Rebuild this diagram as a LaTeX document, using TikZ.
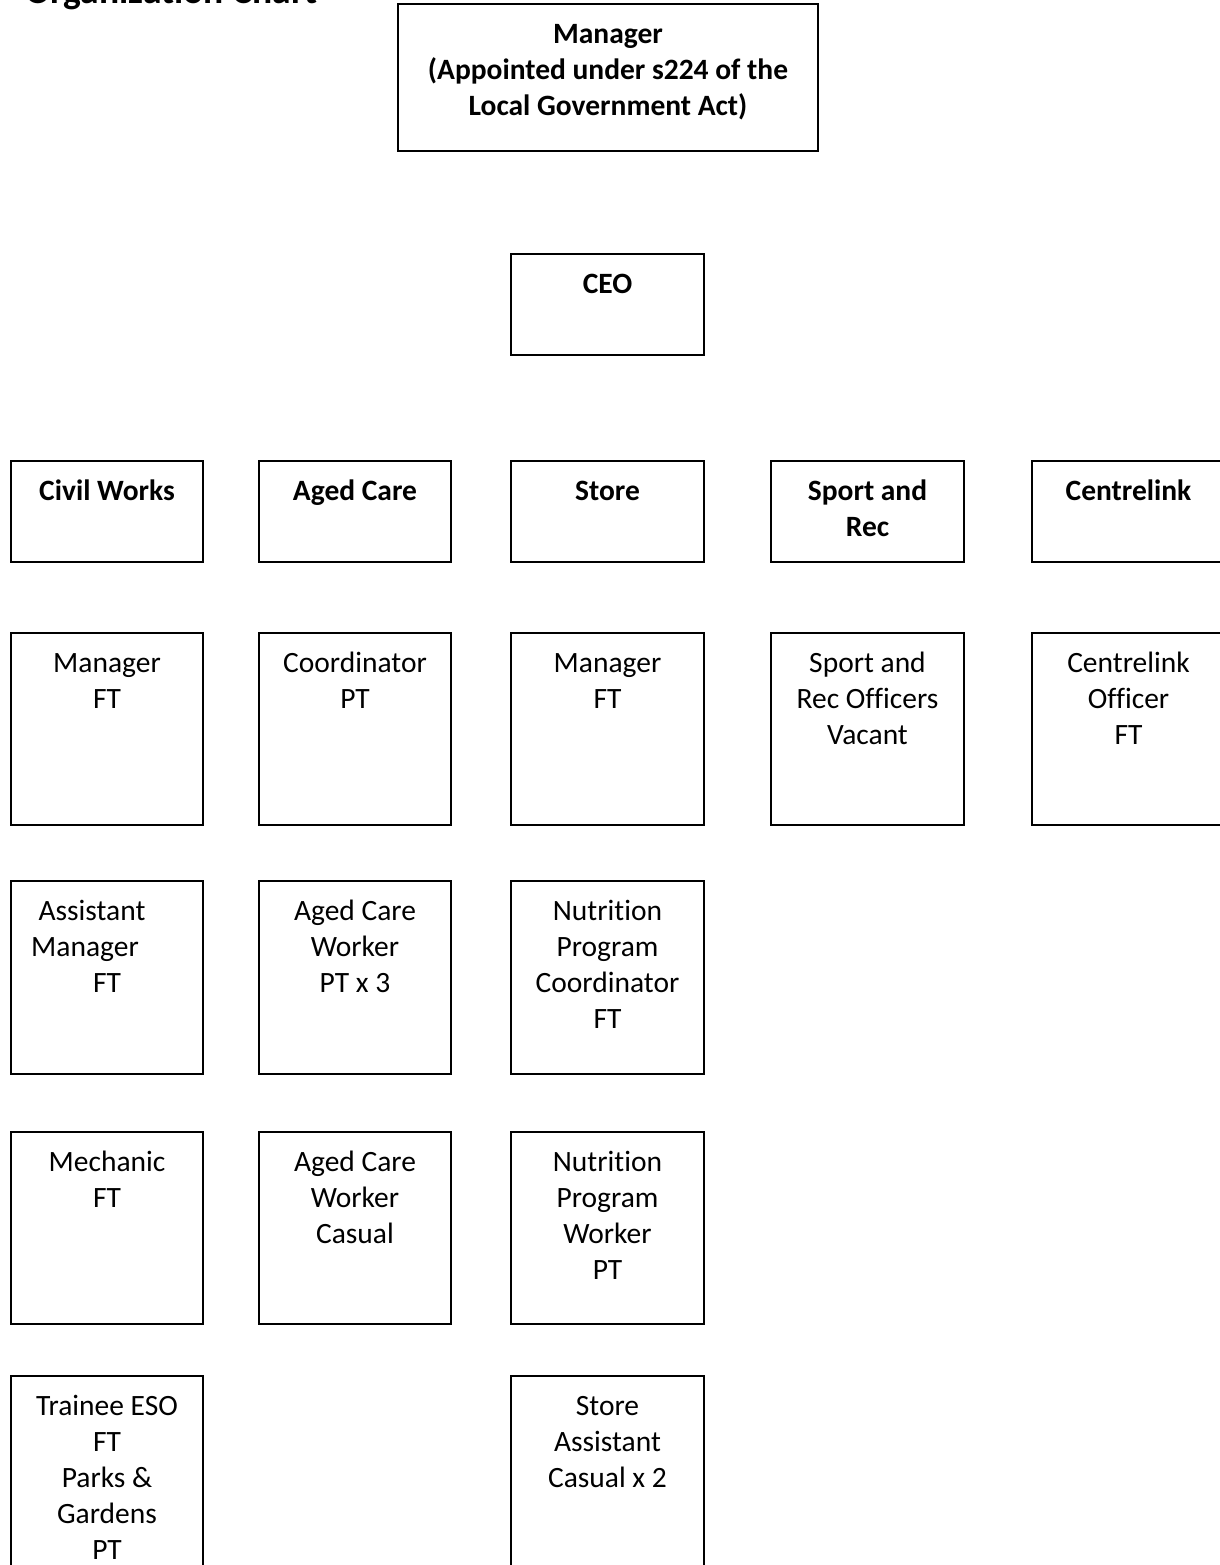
\documentclass[tikz,border=0pt]{standalone}
\usepackage{fontspec}
\setmainfont{Carlito}[Ligatures=CommonOff]
\newlength\upx
\setlength\upx{0.373pt}
\newcommand\orgtext[3]{\parbox[c][#2\upx][t]{#1\upx}{\centering\rule{0pt}{39\upx}#3\par}}
\tikzset{
  orgbox/.style={draw, line width=0.45pt, inner sep=0pt, outer sep=0pt, anchor=north west,
    font=\fontsize{11}{13.43}\selectfont},
}
\begin{document}
\begin{tikzpicture}[x=0.373pt, y=-0.373pt]
\useasboundingbox (0,0) rectangle (1220,1565);
\clip (0,0) rectangle (1220,1565);
% title (clipped at top, as in the reference)
\node[anchor=base west, inner sep=0pt, font=\fontsize{14}{17}\selectfont\bfseries] (title) at (25,3) {Organization Chart};
% top
\node[orgbox] (mgr) at (398,4) {\orgtext{420}{147}{\bfseries Manager\\(Appointed under s224 of the\\Local Government Act)}};
\node[orgbox] (ceo) at (511,254) {\orgtext{193}{101}{\bfseries CEO}};
% departments
\node[orgbox] (civ) at (11,461) {\orgtext{192}{101}{\bfseries Civil Works}};
\node[orgbox] (age) at (259,461) {\orgtext{192}{101}{\bfseries Aged Care}};
\node[orgbox] (sto) at (511,461) {\orgtext{193}{101}{\bfseries Store}};
\node[orgbox] (spo) at (771,461) {\orgtext{193}{101}{\bfseries Sport and\\Rec}};
\node[orgbox] (cen) at (1032,461) {\orgtext{193}{101}{\bfseries Centrelink}};
% row 2
\node[orgbox] (civ1) at (11,633) {\orgtext{192}{192}{Manager\\FT}};
\node[orgbox] (age1) at (259,633) {\orgtext{192}{192}{Coordinator\\PT}};
\node[orgbox] (sto1) at (511,633) {\orgtext{193}{192}{Manager\\FT}};
\node[orgbox] (spo1) at (771,633) {\orgtext{193}{192}{Sport and\\Rec Officers\\Vacant}};
\node[orgbox] (cen1) at (1032,633) {\orgtext{193}{192}{Centrelink\\Officer\\FT}};
% row 3
\node[orgbox] (civ2) at (11,881) {\orgtext{192}{193}{\hspace*{-30\upx}Assistant\\\hspace*{-44\upx}Manager\\FT}};
\node[orgbox] (age2) at (259,881) {\orgtext{192}{193}{Aged Care\\Worker\\PT x 3}};
\node[orgbox] (sto2) at (511,881) {\orgtext{193}{193}{Nutrition\\Program\\Coordinator\\FT}};
% row 4
\node[orgbox] (civ3) at (11,1132) {\orgtext{192}{192}{Mechanic\\FT}};
\node[orgbox] (age3) at (259,1132) {\orgtext{192}{192}{Aged Care\\Worker\\Casual}};
\node[orgbox] (sto3) at (511,1132) {\orgtext{193}{192}{Nutrition\\Program\\Worker\\PT}};
% row 5 (clipped at bottom)
\node[orgbox] (civ4) at (11,1376) {\orgtext{192}{192}{Trainee ESO\\FT\\Parks \&\\Gardens\\PT}};
\node[orgbox] (sto4) at (511,1376) {\orgtext{193}{192}{Store\\Assistant\\Casual x 2}};
\end{tikzpicture}
\end{document}
